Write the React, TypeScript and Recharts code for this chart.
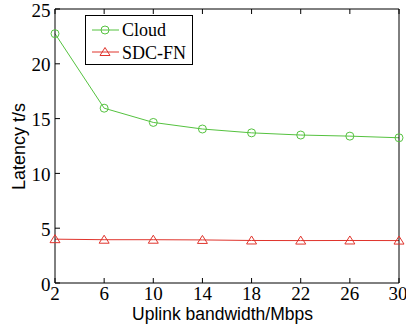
import React from 'react';
import { LineChart, Line, XAxis, YAxis } from 'recharts';

// Uplink bandwidth (Mbps)
const bandwidth = [2, 6, 10, 14, 18, 22, 26, 30];
// Latency (s)
const cloudLatency = [22.75, 15.95, 14.65, 14.05, 13.7, 13.5, 13.4, 13.25];
const sdcfnLatency = [4.0, 3.95, 3.95, 3.93, 3.88, 3.87, 3.88, 3.87];

const xTicks = [2, 6, 10, 14, 18, 22, 26, 30];
const yTicks = [0, 5, 10, 15, 20, 25];

const GREEN = '#55c23f';
const RED = '#e0342c';
const SERIF = '"Liberation Serif", "Times New Roman", serif';
const SANS = '"Liberation Sans", Arial, sans-serif';

const data = bandwidth.map((bw, i) => ({
  bw,
  cloud: cloudLatency[i],
  sdcfn: sdcfnLatency[i],
}));

const Triangle = (props: any) => {
  const { cx, cy, stroke } = props;
  if (cx == null || cy == null) return null;
  return (
    <path
      d={`M${cx},${cy - 4.5} L${cx + 5},${cy + 3.5} L${cx - 5},${cy + 3.5} Z`}
      fill="none"
      stroke={stroke}
      strokeWidth={1}
    />
  );
};

const BottomTick = (props: any) => (
  <text x={props.x} y={300} textAnchor="middle" fontFamily={SERIF} fontSize={19} fill="#000">
    {props.payload.value}
  </text>
);

const LeftTick = (props: any) => (
  <text x={50.5} y={props.y} dy="0.4em" textAnchor="end" fontFamily={SERIF} fontSize={19} fill="#000">
    {props.payload.value}
  </text>
);

// legend drawn as an overlay so it doesn't eat plot space
const LegendBox = () => (
  <svg width={108} height={50} style={{ position: 'absolute', left: 85, top: 15, display: 'block' }}>
    <rect x={0.5} y={0.5} width={107} height={49} fill="#fff" stroke="#000" strokeWidth={1} />
    <line x1={7} x2={34} y1={15} y2={15} stroke={GREEN} strokeWidth={1} />
    <circle cx={20} cy={15} r={4} fill="none" stroke={GREEN} />
    <text x={37} y={21} fontFamily={SERIF} fontSize={18} fill="#000">Cloud</text>
    <line x1={7} x2={34} y1={37} y2={37} stroke={RED} strokeWidth={1} />
    <Triangle cx={20} cy={37} stroke={RED} />
    <text x={37} y={44} fontFamily={SERIF} fontSize={18} fill="#000">SDC-FN</text>
  </svg>
);

export default function App() {
  return (
    <div style={{ position: 'absolute', left: 0, top: 0, width: 406, height: 330, background: '#fff' }}>
      <LineChart width={406} height={330} data={data} margin={{ top: 8, right: 6, left: 0, bottom: 0 }}>
        <XAxis
          xAxisId="b"
          dataKey="bw"
          type="number"
          domain={[2, 30]}
          ticks={xTicks}
          height={47}
          stroke="#000"
          tickSize={-5}
          tickMargin={8}
          tick={<BottomTick />}
          label={{
            content: () => (
              <text x={222.5} y={320} textAnchor="middle" fontFamily={SANS} fontSize={17.5} fill="#000">
                Uplink bandwidth/Mbps
              </text>
            ),
          }}
        />
        <XAxis
          xAxisId="t"
          orientation="top"
          dataKey="bw"
          type="number"
          domain={[2, 30]}
          ticks={xTicks}
          height={1}
          stroke="#000"
          tickSize={-5}
          tickFormatter={() => ''}
        />
        <YAxis
          yAxisId="l"
          domain={[0, 25]}
          ticks={yTicks}
          width={55}
          stroke="#000"
          tickSize={-5}
          tickMargin={10}
          tick={<LeftTick />}
          label={{
            content: () => (
              <text x={25} y={146.5} transform="rotate(-90, 25, 146.5)" textAnchor="middle" fontFamily={SANS} fontSize={18} fill="#000">
                Latency t/s
              </text>
            ),
          }}
        />
        <YAxis
          yAxisId="r"
          orientation="right"
          domain={[0, 25]}
          ticks={yTicks}
          width={1}
          stroke="#000"
          tickSize={-5}
          tickFormatter={() => ''}
        />
        <Line
          xAxisId="b"
          yAxisId="l"
          dataKey="cloud"
          name="Cloud"
          stroke={GREEN}
          strokeWidth={1}
          dot={{ r: 4, fill: 'none', stroke: GREEN, strokeWidth: 1 }}
          isAnimationActive={false}
        />
        <Line
          xAxisId="b"
          yAxisId="l"
          dataKey="sdcfn"
          name="SDC-FN"
          stroke={RED}
          strokeWidth={1}
          dot={<Triangle />}
          isAnimationActive={false}
        />
      </LineChart>
      <LegendBox />
    </div>
  );
}
